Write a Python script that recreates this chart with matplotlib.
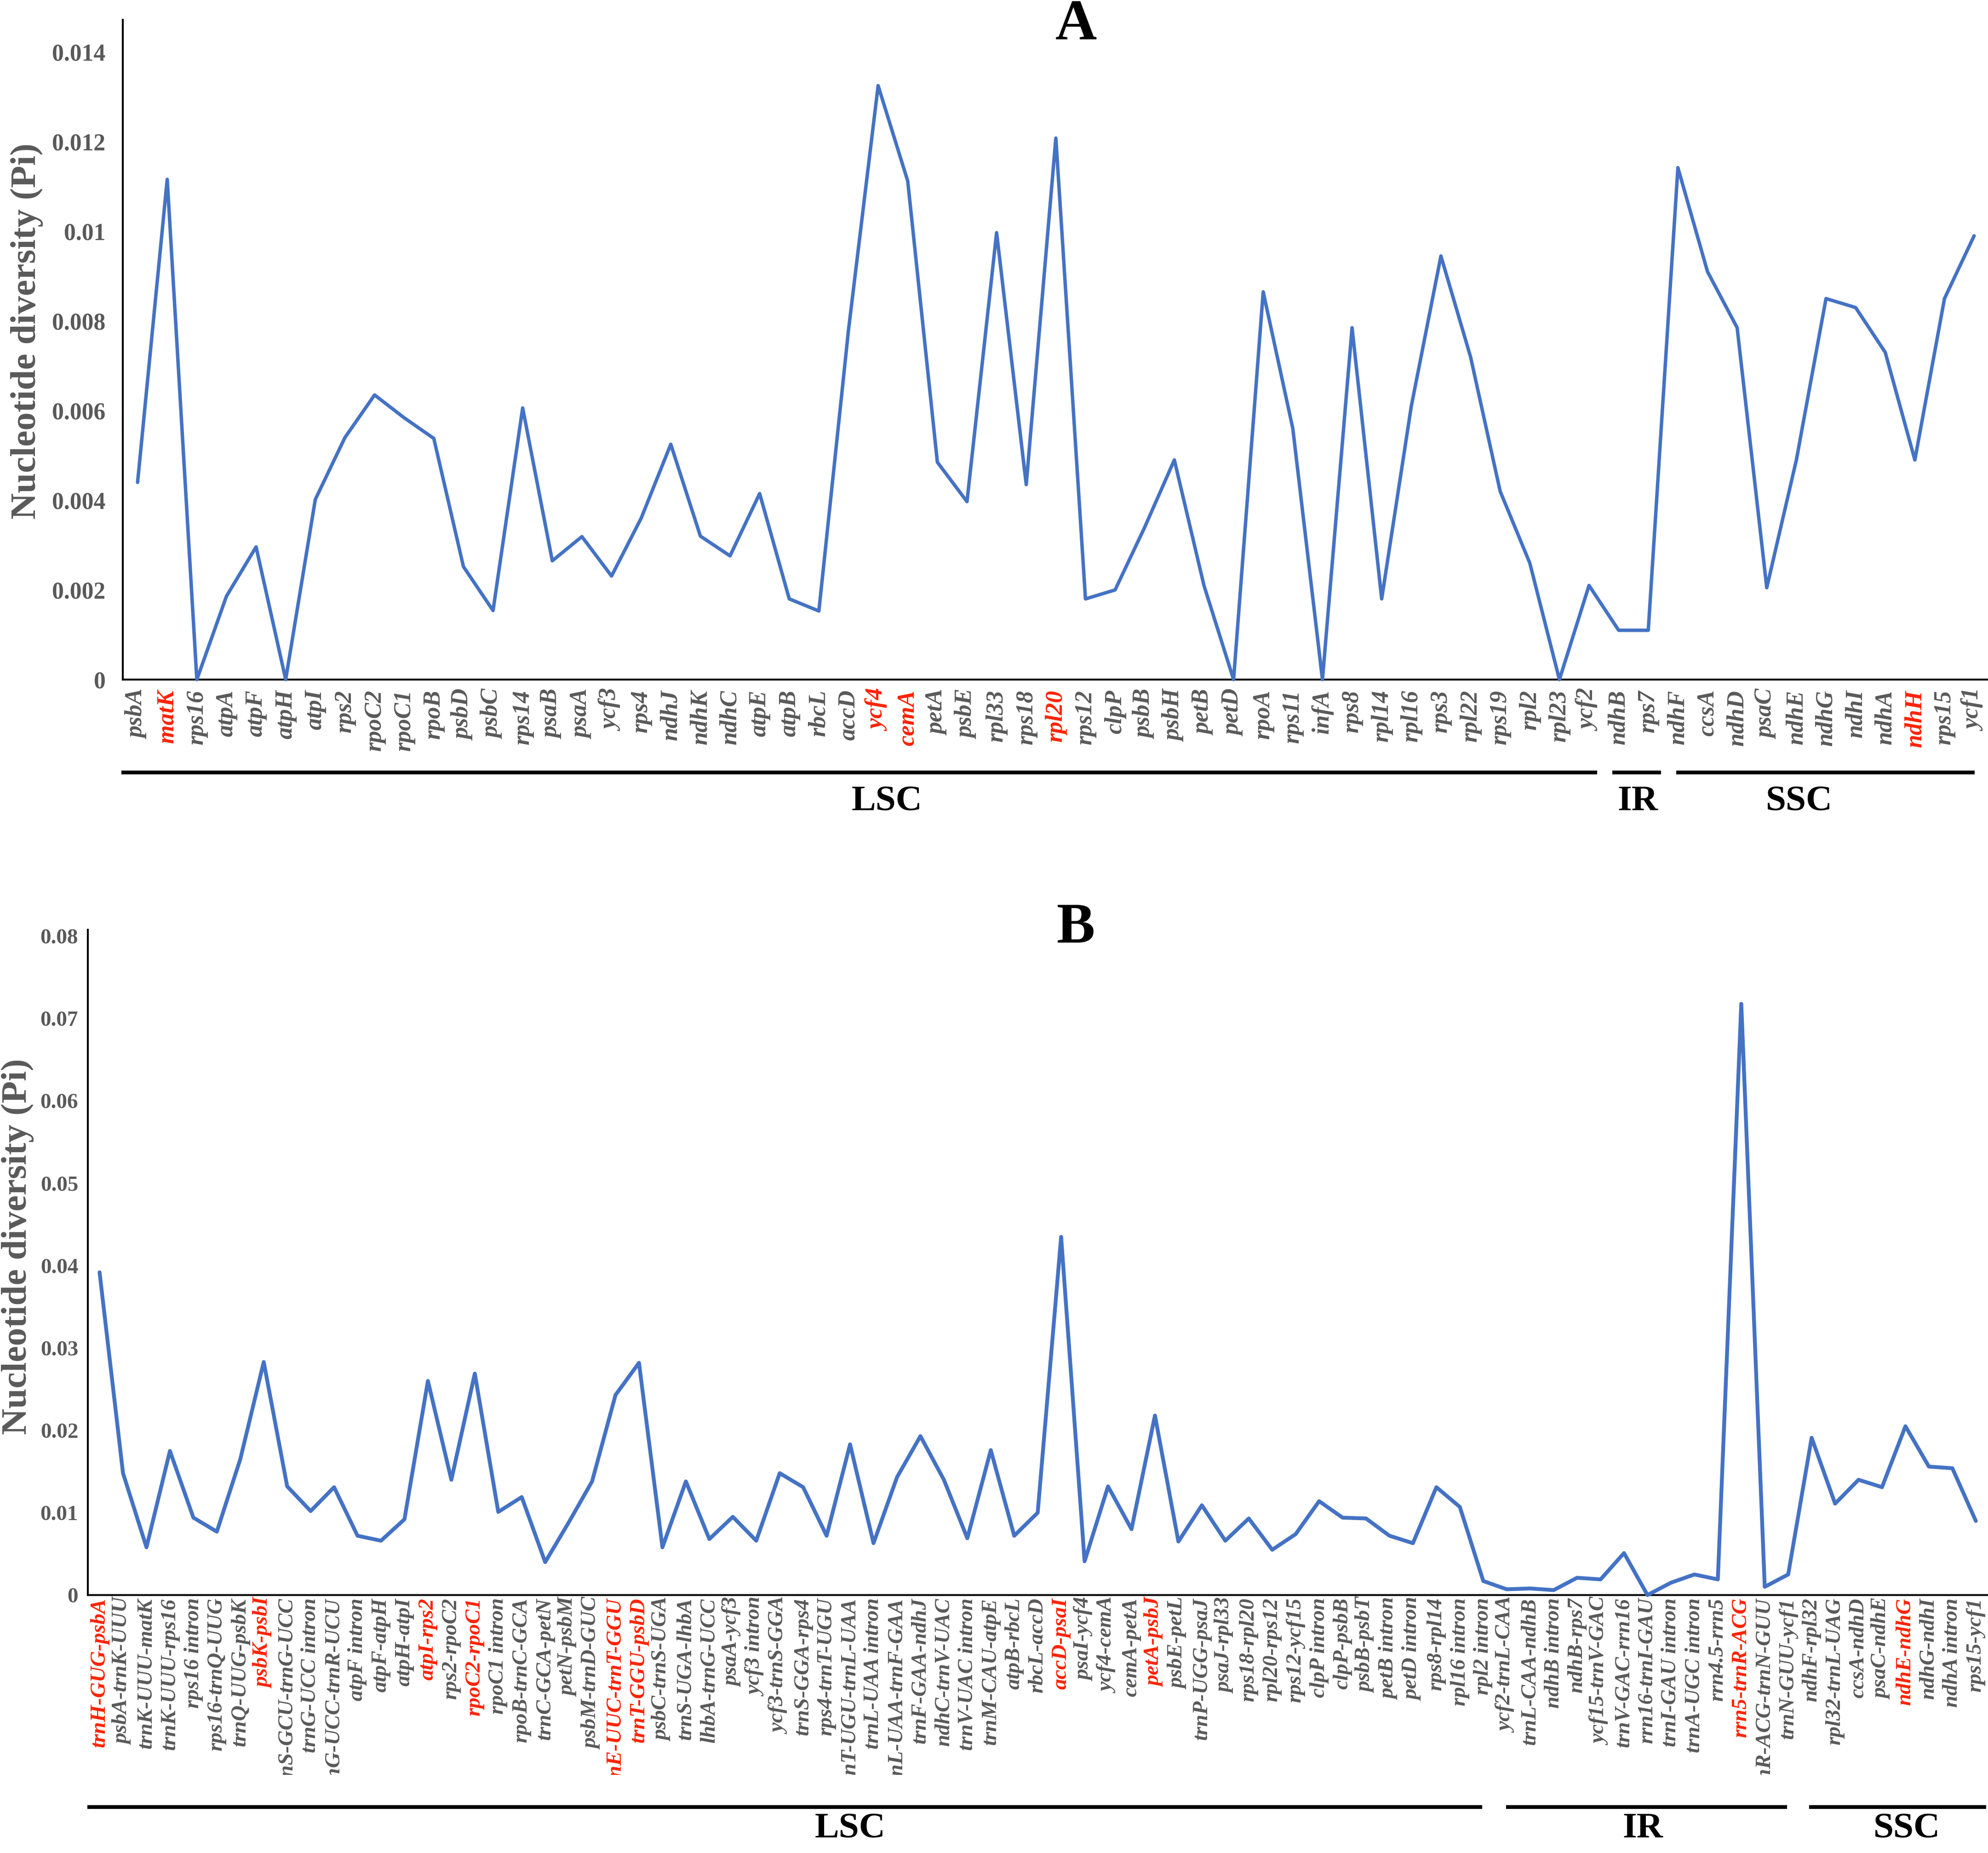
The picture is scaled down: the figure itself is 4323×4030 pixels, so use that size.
import matplotlib
matplotlib.use("Agg")
import matplotlib.pyplot as plt
from matplotlib.transforms import Bbox, TransformedBbox, blended_transform_factory

W, H = 4323, 4030

genes_a = ["psbA", "matK", "rps16", "atpA", "atpF", "atpH", "atpI", "rps2", "rpoC2", "rpoC1",
           "rpoB", "psbD", "psbC", "rps14", "psaB", "psaA", "ycf3", "rps4", "ndhJ", "ndhK",
           "ndhC", "atpE", "atpB", "rbcL", "accD", "ycf4", "cemA", "petA", "psbE", "rpl33",
           "rps18", "rpl20", "rps12", "clpP", "psbB", "psbH", "petB", "petD", "rpoA", "rps11",
           "infA", "rps8", "rpl14", "rpl16", "rps3", "rpl22", "rps19", "rpl2", "rpl23", "ycf2",
           "ndhB", "rps7", "ndhF", "ccsA", "ndhD", "psaC", "ndhE", "ndhG", "ndhI", "ndhA",
           "ndhH", "rps15", "ycf1"]
pi_a = [0.0044, 0.01116, 0.0, 0.00186, 0.00296, 0.0, 0.00402, 0.0054, 0.00635, 0.00584,
        0.00538, 0.00252, 0.00154, 0.00606, 0.00265, 0.00319, 0.00231, 0.0036, 0.00525, 0.0032,
        0.00276, 0.00415, 0.0018, 0.00153, 0.0078, 0.01325, 0.01112, 0.00485, 0.00397, 0.00997,
        0.00435, 0.01208, 0.0018, 0.002, 0.0034, 0.0049, 0.0021, 0.0, 0.00865, 0.0056,
        0.0, 0.00785, 0.0018, 0.0061, 0.00945, 0.0072, 0.0042, 0.0026, 0.0, 0.0021,
        0.0011, 0.0011, 0.01142, 0.0091, 0.00785, 0.00205, 0.0049, 0.0085, 0.0083, 0.0073,
        0.0049, 0.0085, 0.0099]
red_a = ["matK", "ycf4", "cemA", "rpl20", "ndhH"]

regions_b_names = ["trnH-GUG-psbA", "psbA-trnK-UUU", "trnK-UUU-matK", "trnK-UUU-rps16", "rps16 intron",
           "rps16-trnQ-UUG", "trnQ-UUG-psbK", "psbK-psbI", "trnS-GCU-trnG-UCC", "trnG-UCC intron",
           "trnG-UCC-trnR-UCU", "atpF intron", "atpF-atpH", "atpH-atpI", "atpI-rps2",
           "rps2-rpoC2", "rpoC2-rpoC1", "rpoC1 intron", "rpoB-trnC-GCA", "trnC-GCA-petN",
           "petN-psbM", "psbM-trnD-GUC", "trnE-UUC-trnT-GGU", "trnT-GGU-psbD", "psbC-trnS-UGA",
           "trnS-UGA-lhbA", "lhbA-trnG-UCC", "psaA-ycf3", "ycf3 intron", "ycf3-trnS-GGA",
           "trnS-GGA-rps4", "rps4-trnT-UGU", "trnT-UGU-trnL-UAA", "trnL-UAA intron", "trnL-UAA-trnF-GAA",
           "trnF-GAA-ndhJ", "ndhC-trnV-UAC", "trnV-UAC intron", "trnM-CAU-atpE", "atpB-rbcL",
           "rbcL-accD", "accD-psaI", "psaI-ycf4", "ycf4-cemA", "cemA-petA",
           "petA-psbJ", "psbE-petL", "trnP-UGG-psaJ", "psaJ-rpl33", "rps18-rpl20",
           "rpl20-rps12", "rps12-ycf15", "clpP intron", "clpP-psbB", "psbB-psbT",
           "petB intron", "petD intron", "rps8-rpl14", "rpl16 intron", "rpl2 intron",
           "ycf2-trnL-CAA", "trnL-CAA-ndhB", "ndhB intron", "ndhB-rps7", "ycf15-trnV-GAC",
           "trnV-GAC-rrn16", "rrn16-trnI-GAU", "trnI-GAU intron", "trnA-UGC intron", "rrn4.5-rrn5",
           "rrn5-trnR-ACG", "trnR-ACG-trnN-GUU", "trnN-GUU-ycf1", "ndhF-rpl32", "rpl32-trnL-UAG",
           "ccsA-ndhD", "psaC-ndhE", "ndhE-ndhG", "ndhG-ndhI", "ndhA intron",
           "rps15-ycf1"]
pi_b = [0.0392, 0.0148, 0.0058, 0.0175, 0.0094, 0.0077, 0.0165, 0.0283, 0.0132, 0.0102,
        0.0131, 0.0072, 0.0066, 0.0092, 0.0260, 0.0140, 0.0269, 0.0101, 0.0119, 0.0040,
        0.0088, 0.0138, 0.0243, 0.0282, 0.0058, 0.0138, 0.0068, 0.0095, 0.0066, 0.0148,
        0.0131, 0.0072, 0.0183, 0.0063, 0.0143, 0.0193, 0.0140, 0.0069, 0.0176, 0.0072,
        0.0100, 0.0435, 0.0041, 0.0132, 0.0080, 0.0218, 0.0065, 0.0109, 0.0066, 0.0093,
        0.0055, 0.0074, 0.0114, 0.0094, 0.0093, 0.0072, 0.0063, 0.0131, 0.0107, 0.0017,
        0.0007, 0.0008, 0.0006, 0.0021, 0.0019, 0.0051, 0.0, 0.0015, 0.0025, 0.0019,
        0.0718, 0.0010, 0.0025, 0.0191, 0.0111, 0.0140, 0.0131, 0.0205, 0.0156, 0.0154,
        0.0090]
red_b = ["trnH-GUG-psbA", "psbK-psbI", "atpI-rps2", "rpoC2-rpoC1", "trnE-UUC-trnT-GGU",
         "trnT-GGU-psbD", "accD-psaI", "petA-psbJ", "rrn5-trnR-ACG", "ndhE-ndhG"]

# region brackets: (name, start, end, text position) in category units
sections_a = [("LSC", -0.54, 49.27, 25.3), ("IR", 49.79, 51.43, 50.65), ("SSC", 51.94, 62.02, 56.1)]
sections_b = [("LSC", -0.51, 58.95, 32.0), ("IR", 59.97, 71.95, 65.8), ("SSC", 72.9, 80.45, 77.05)]

ticks_a = [0, 0.002, 0.004, 0.006, 0.008, 0.01, 0.012, 0.014]
ticks_b = [0, 0.01, 0.02, 0.03, 0.04, 0.05, 0.06, 0.07, 0.08]

SERIF = "Liberation Serif"
GRAY = "#595959"
RED = "#FF2200"
BLUE = "#4472C4"

fig = plt.figure(figsize=(W / 300, H / 300), dpi=300)
axA = fig.add_axes([267 / W, 1 - 1478 / H, (4325 - 267) / W, (1478 - 43) / H])
axB = fig.add_axes([191 / W, 1 - 3469 / H, (4322 - 191) / W, (3469 - 2022) / H])


def panel(ax, names, vals, reds, yticks, ytop, lw, xfs, xpad, yfs, ypad):
    x = list(range(len(names)))
    ax.plot(x, vals, color=BLUE, lw=lw, solid_joinstyle="round", solid_capstyle="round",
            clip_on=False, zorder=3)
    ax.set_xlim(-0.5, len(names) - 0.5)
    ax.set_ylim(0, ytop)
    ax.set_xticks(x)
    ax.set_xticklabels(names, rotation=90, fontsize=xfs, fontfamily=SERIF,
                       fontweight="bold", fontstyle="italic", va="top", ha="center")
    for lab, nm in zip(ax.get_xticklabels(), names):
        lab.set_color(RED if nm in reds else GRAY)
    ax.set_yticks(yticks)
    ax.set_yticklabels(["%g" % v for v in yticks], fontsize=yfs, fontfamily=SERIF,
                       fontweight="bold", color=GRAY)
    ax.tick_params(axis="x", length=0, pad=xpad)
    ax.tick_params(axis="y", length=0, pad=ypad)
    for s in ["top", "right"]:
        ax.spines[s].set_visible(False)
    for s in ["left", "bottom"]:
        ax.spines[s].set_linewidth(1.0)
        ax.spines[s].set_color("black")
    ax.set_facecolor("none")


panel(axA, genes_a, pi_a, red_a, ticks_a, 0.01472, 1.8, 12.5, 5.3, 12.4, 9)
panel(axB, regions_b_names, pi_b, red_b, ticks_b, 0.0808, 2.0, 11.3, 1.5, 11.3, 5)

# y labels
fig.text(58 / W, 1 - 720 / H, "Nucleotide diversity (Pi)", rotation=90, ha="center", va="center",
         fontsize=19, fontfamily=SERIF, fontweight="bold", color=GRAY)
fig.text(38 / W, 1 - 2711 / H, "Nucleotide diversity (Pi)", rotation=90, ha="center", va="center",
         fontsize=19, fontfamily=SERIF, fontweight="bold", color=GRAY)

# panel titles
fig.text(2340 / W, 1 - 55 / H, "A", ha="center", va="center", fontsize=30,
         fontfamily=SERIF, fontweight="bold", color="black")
fig.text(2340 / W, 1 - 2020 / H, "B", ha="center", va="center", fontsize=30,
         fontfamily=SERIF, fontweight="bold", color="black")

# clip long labels of panel B at the chart border
clip = TransformedBbox(Bbox([[0, 1 - 3860 / H], [1, 1]]), fig.transFigure)
for lab in axB.get_xticklabels():
    lab.set_clip_box(clip)
    lab.set_clip_on(True)

# genome region brackets
for ax, secs, yline, ytext in [(axA, sections_a, 1 - 1680 / H, 1 - 1744 / H),
                               (axB, sections_b, 1 - 3930 / H, 1 - 3978 / H)]:
    tr = blended_transform_factory(ax.transData, fig.transFigure)
    for name, x0, x1, xt in secs:
        ax.plot([x0, x1], [yline, yline], transform=tr, color="black", lw=2.0,
                solid_capstyle="butt", clip_on=False)
        ax.text(xt, ytext, name, transform=tr, ha="center", va="center", fontsize=19,
                fontfamily=SERIF, fontweight="bold", color="black")

fig.savefig("out.png", dpi=300, facecolor="white")
